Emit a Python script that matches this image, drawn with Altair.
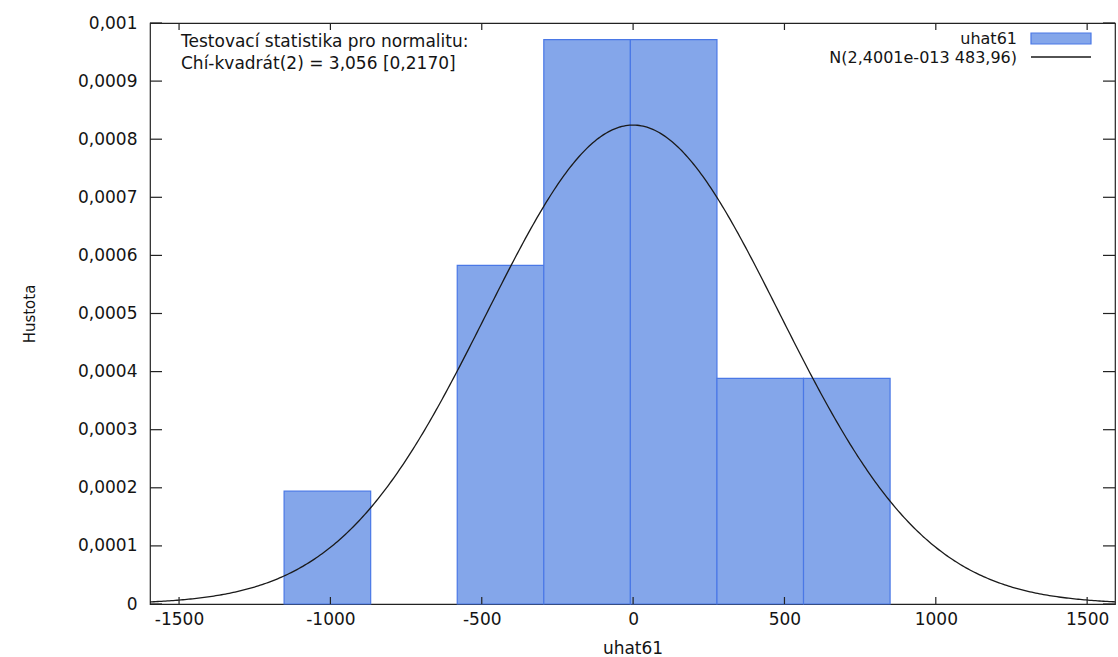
import altair as alt
import numpy as np
import pandas as pd

# Histogram of residuals uhat61 with fitted normal density
bin_edges = [-1153, -867, -581, -295, -9, 277, 563, 849]
bin_counts = [1, 0, 3, 5, 5, 2, 2]
n_obs = 18
norm_mean = 2.4001e-13
norm_sd = 483.96

x_ticks = [-1500, -1000, -500, 0, 500, 1000, 1500]
y_ticks = [0, 0.0001, 0.0002, 0.0003, 0.0004, 0.0005, 0.0006, 0.0007, 0.0008, 0.0009, 0.001]
x_domain = [-1596, 1592]
y_domain = [0, 0.001]

stat_lines = ["Testovací statistika pro normalitu:", "Chí-kvadrát(2) = 3,056 [0,2170]"]
legend_labels = ["uhat61", "N(2,4001e-013 483,96)"]

W, H = 965, 581
FONT = "DejaVu Sans"
FS = 17
TXT = "#141414"
BAR_FILL = "#84a6ea"
BAR_EDGE = "#4a78e6"

hist = pd.DataFrame({
    "lo": bin_edges[:-1],
    "hi": bin_edges[1:],
    "count": bin_counts,
})
hist["density"] = hist["count"] / (n_obs * (hist["hi"] - hist["lo"]))
hist = hist[hist["count"] > 0]

xs = np.linspace(x_domain[0], x_domain[1], 500)
curve = pd.DataFrame({
    "x": xs,
    "pdf": np.exp(-0.5 * ((xs - norm_mean) / norm_sd) ** 2) / (norm_sd * np.sqrt(2 * np.pi)),
})

xscale = alt.Scale(domain=x_domain, nice=False, zero=False)
yscale = alt.Scale(domain=y_domain, nice=False, zero=False)

xaxis = alt.Axis(values=x_ticks, ticks=False, domain=False, grid=False,
                 labelPadding=7, title="uhat61", titlePadding=13,
                 labelExpr="toString(datum.value)",
                 labelFont=FONT, labelFontSize=FS, titleFont=FONT,
                 titleFontSize=FS, titleFontWeight="normal",
                 labelColor=TXT, titleColor=TXT)
yaxis = alt.Axis(values=y_ticks, ticks=False, domain=False, grid=False,
                 labelPadding=13, title="Hustota", titlePadding=40,
                 labelExpr="replace(format(datum.value, '.4~f'), '.', ',')",
                 labelFont=FONT, labelFontSize=FS, titleFont=FONT,
                 titleFontSize=FS - 2, titleFontWeight="normal",
                 labelColor=TXT, titleColor=TXT)

bars = alt.Chart(hist).mark_rect(fill=BAR_FILL, stroke=BAR_EDGE, strokeWidth=1.2).encode(
    x=alt.X("lo:Q", scale=xscale, axis=xaxis),
    x2="hi:Q",
    y=alt.Y("density:Q", scale=yscale, axis=yaxis),
    y2=alt.datum(0),
)

line = alt.Chart(curve).mark_line(color="#1a1a1a", strokeWidth=1.3).encode(
    x=alt.X("x:Q", scale=xscale, axis=xaxis),
    y=alt.Y("pdf:Q", scale=yscale, axis=yaxis),
)

# inward ticks on all four sides
xt = pd.DataFrame({"x": x_ticks})
yt = pd.DataFrame({"y": y_ticks})
tick_style = dict(color="#222", strokeWidth=1.2)
xt_bottom = alt.Chart(xt).mark_rule(**tick_style).encode(
    x=alt.X("x:Q", scale=xscale, axis=xaxis), y=alt.value(H), y2=alt.value(H - 7))
xt_top = alt.Chart(xt).mark_rule(**tick_style).encode(
    x=alt.X("x:Q", scale=xscale, axis=xaxis), y=alt.value(0), y2=alt.value(7))
yt_left = alt.Chart(yt).mark_rule(**tick_style).encode(
    y=alt.Y("y:Q", scale=yscale, axis=yaxis), x=alt.value(0), x2=alt.value(12))
yt_right = alt.Chart(yt).mark_rule(**tick_style).encode(
    y=alt.Y("y:Q", scale=yscale, axis=yaxis), x=alt.value(W - 12), x2=alt.value(W))

# test statistic annotation
stat_df = pd.DataFrame({"t": stat_lines, "yy": [19, 41]})
stat_text = alt.Chart(stat_df).mark_text(
    align="left", baseline="middle", font=FONT, fontSize=FS, color=TXT
).encode(text="t:N", x=alt.value(31), y=alt.Y("yy:Q", scale=None, axis=None))

# key in the top-right corner
leg_df = pd.DataFrame({"t": legend_labels, "yy": [16, 35]})
leg_text = alt.Chart(leg_df).mark_text(
    align="right", baseline="middle", font=FONT, fontSize=16, color=TXT
).encode(text="t:N", x=alt.value(867), y=alt.Y("yy:Q", scale=None, axis=None))

one = pd.DataFrame({"k": [0]})
leg_box = alt.Chart(one).mark_rect(fill=BAR_FILL, stroke=BAR_EDGE, strokeWidth=1.2).encode(
    x=alt.value(881), x2=alt.value(941), y=alt.value(10), y2=alt.value(21))
leg_line = alt.Chart(one).mark_rule(color="#1a1a1a", strokeWidth=1.3).encode(
    x=alt.value(881), x2=alt.value(941), y=alt.value(34))

chart = alt.layer(
    bars, line, xt_bottom, xt_top, yt_left, yt_right,
    stat_text, leg_text, leg_box, leg_line,
).properties(
    width=W, height=H,
    autosize="none",
    padding={"left": 150, "top": 23, "right": 3, "bottom": 53},
    background="white",
).configure_view(stroke="#222", strokeWidth=1.2)

chart.save("out.html", embed_options={"renderer": "svg", "actions": False})
